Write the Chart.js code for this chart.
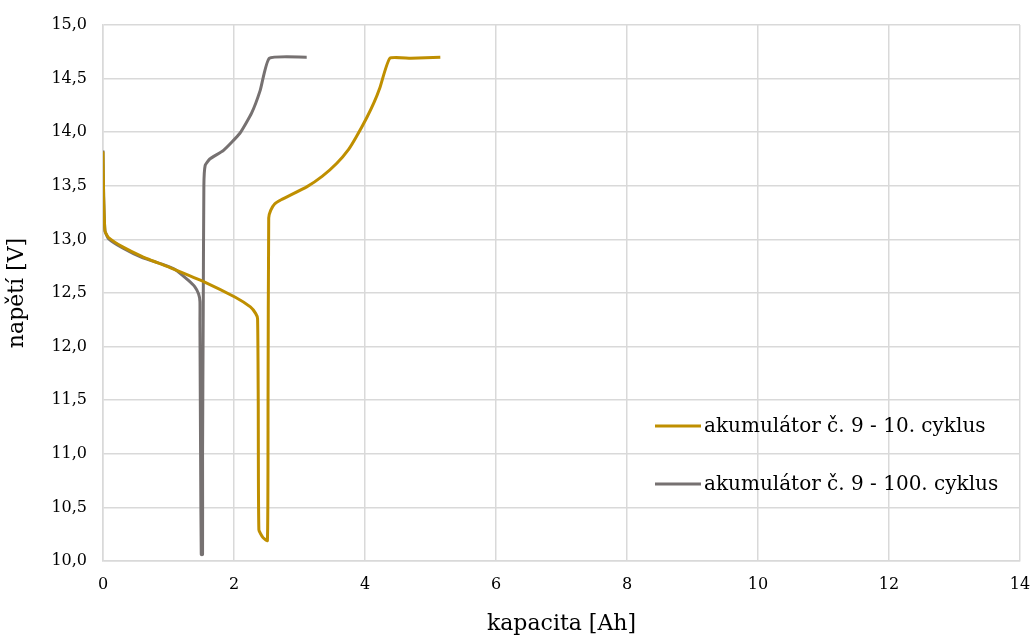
<!DOCTYPE html>
<html>
<head>
<meta charset="utf-8">
<script src="https://cdn.jsdelivr.net/npm/chart.js@4.4.1/dist/chart.umd.min.js"></script>
<style>
  html, body { margin: 0; padding: 0; background: #fff; }
  canvas { display: block; }
</style>
</head>
<body>
<canvas id="myChart" width="1034" height="641"></canvas>
<script>
// akumulátor č. 9 - 10. cyklus
const capacity10 = [0, 0.01, 0.03, 0.08, 0.3, 0.6, 1.05, 1.56, 2.02, 2.25, 2.33, 2.36, 2.37, 2.38, 2.44, 2.51, 2.52, 2.53, 2.56, 2.62, 2.72, 3.11, 3.35, 3.57, 3.75, 3.87, 4.03, 4.14, 4.23, 4.38, 4.7, 5.15];
const voltage10  = [13.82, 13.4, 13.08, 13.02, 12.93, 12.84, 12.73, 12.6, 12.46, 12.37, 12.31, 12.26, 11.5, 10.29, 10.22, 10.19, 11.5, 13.2, 13.27, 13.33, 13.37, 13.49, 13.59, 13.71, 13.84, 13.96, 14.14, 14.28, 14.42, 14.69, 14.69, 14.7];
// akumulátor č. 9 - 100. cyklus
const capacity100 = [0, 0.01, 0.03, 0.08, 0.3, 0.6, 0.9, 1.1, 1.3, 1.4, 1.46, 1.48, 1.48, 1.49, 1.5, 1.52, 1.52, 1.53, 1.54, 1.56, 1.63, 1.84, 2.09, 2.27, 2.4, 2.54, 3.11];
const voltage100  = [13.83, 13.4, 13.08, 13.01, 12.92, 12.83, 12.77, 12.72, 12.62, 12.56, 12.49, 12.42, 12.2, 11.0, 10.06, 10.06, 11.0, 12.3, 13.5, 13.69, 13.75, 13.83, 13.99, 14.18, 14.39, 14.69, 14.7];

const labels = ['akumulátor č. 9 - 10. cyklus', 'akumulátor č. 9 - 100. cyklus'];
const colors = ['#BF8F00', '#767171'];

const xTicks = [0, 2, 4, 6, 8, 10, 12, 14];
const yMin = 10, yMax = 15, yStep = 0.5;

const serif = "'DejaVu Serif', 'Liberation Serif', serif";

function toPoints(xs, ys) {
  return xs.map((x, i) => ({ x: x, y: ys[i] }));
}

// legend drawn inside the plot, right side
const insideLegend = {
  id: 'insideLegend',
  afterDraw(chart) {
    const ctx = chart.ctx;
    const area = chart.chartArea;
    const x0 = area.left + 552;
    const ys = [area.top + 401, area.top + 459];
    ctx.save();
    ctx.font = '20px ' + serif;
    ctx.textBaseline = 'middle';
    ctx.fillStyle = '#000';
    chart.data.datasets.forEach((ds, i) => {
      ctx.strokeStyle = ds.borderColor;
      ctx.lineWidth = 3;
      ctx.beginPath();
      ctx.moveTo(x0, ys[i]);
      ctx.lineTo(x0 + 46, ys[i]);
      ctx.stroke();
      ctx.fillText(ds.label, x0 + 49, ys[i] + 1);
    });
    ctx.restore();
  }
};

const data = {
  datasets: [
    {
      label: labels[0],
      data: toPoints(capacity10, voltage10),
      borderColor: colors[0],
      backgroundColor: colors[0],
      borderWidth: 3,
      pointRadius: 0,
      showLine: true,
      tension: 0.15
    },
    {
      label: labels[1],
      data: toPoints(capacity100, voltage100),
      borderColor: colors[1],
      backgroundColor: colors[1],
      borderWidth: 3,
      pointRadius: 0,
      showLine: true,
      tension: 0.15
    }
  ]
};

const config = {
  type: 'scatter',
  data,
  options: {
    responsive: false,
    animation: false,
    layout: { padding: { top: 25, right: 14, bottom: 0, left: 0 } },
    plugins: {
      legend: { display: false },
      tooltip: { enabled: false }
    },
    scales: {
      x: {
        type: 'linear',
        min: 0,
        max: 14,
        afterBuildTicks: axis => { axis.ticks = xTicks.map(v => ({ value: v })); },
        afterFit: axis => { axis.height = 80; axis.paddingLeft = 0; axis.paddingRight = 0; },
        grid: { color: '#d9d9d9', lineWidth: 1.5, drawTicks: false },
        border: { color: '#d9d9d9', width: 1.5 },
        ticks: {
          color: '#000',
          padding: 14,
          font: { family: serif, size: 16 },
          callback: v => String(v)
        },
        title: {
          display: true,
          text: 'kapacita [Ah]',
          color: '#000',
          font: { family: serif, size: 22 },
          padding: { top: 6 }
        }
      },
      y: {
        min: yMin,
        max: yMax,
        ticks: {
          stepSize: yStep,
          color: '#000',
          padding: 16,
          font: { family: serif, size: 16 },
          callback: v => v.toFixed(1).replace('.', ',')
        },
        afterFit: axis => { axis.width = 103; axis.paddingTop = 0; axis.paddingBottom = 0; },
        grid: { color: '#d9d9d9', lineWidth: 1.5, drawTicks: false },
        border: { color: '#d9d9d9', width: 1.5 },
        title: {
          display: true,
          text: 'napětí [V]',
          color: '#000',
          font: { family: serif, size: 22 },
          padding: { bottom: 6 }
        }
      }
    }
  },
  plugins: [insideLegend]
};

const myChart = new Chart(document.getElementById('myChart'), config);
</script>
</body>
</html>
